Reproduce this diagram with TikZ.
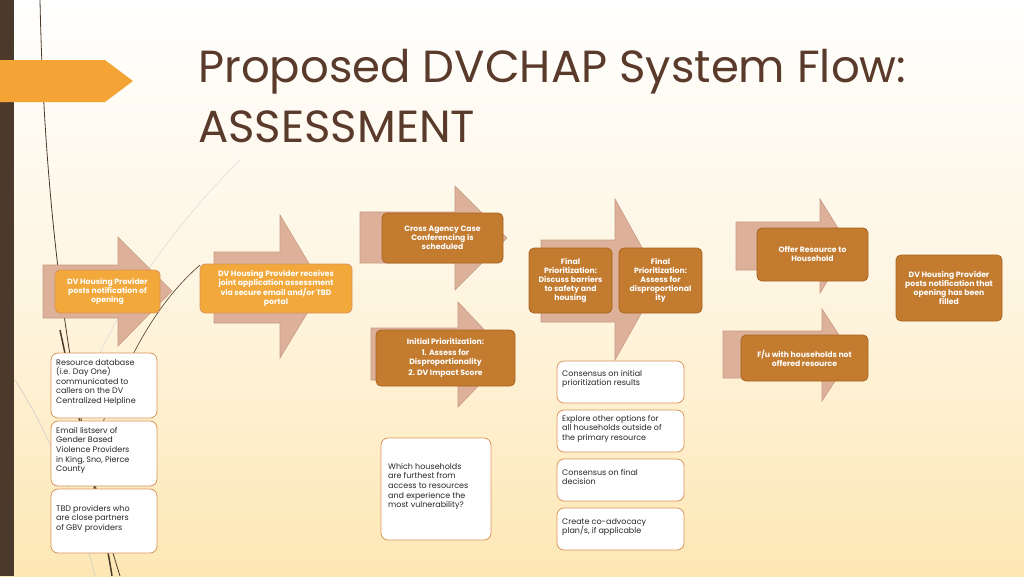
\documentclass[tikz,border=0pt]{standalone}
\usepackage{fontspec}
\setmainfont{Poppins}
\newfontfamily\titlefont{Poppins}
\usetikzlibrary{shapes.geometric}
\definecolor{peach}{HTML}{DDB09A}
\definecolor{peachedge}{HTML}{C99A84}
\definecolor{lor}{HTML}{F2A83A}
\definecolor{dor}{HTML}{C37B30}
\definecolor{dedge}{HTML}{A9641F}
\definecolor{wedge}{HTML}{D9955A}
\definecolor{brownbar}{HTML}{4B3A2C}
\definecolor{titlec}{HTML}{5A3A2B}
\definecolor{bgbot}{HTML}{FDE7B4}
\tikzset{
  blk/.style={fill=peach,draw=peachedge,line width=0.6pt},
  lbox/.style={draw=wedge,fill=lor,rounded corners=5pt,line width=0.8pt},
  dbox/.style={draw=dedge,fill=dor,rounded corners=5pt,line width=0.8pt},
  wbox/.style={draw=wedge,fill=white,rounded corners=7pt,line width=0.8pt},
  btxt/.style={text=white,font=\fontsize{7.7}{8.9}\selectfont\bfseries,align=center,inner sep=0pt},
  wtxt/.style={text=black!85,font=\fontsize{8}{9.6}\selectfont,align=left,anchor=north west,inner sep=0pt},
}
\begin{document}
\begin{tikzpicture}[x=1pt,y=-1pt]
\useasboundingbox (0,0) rectangle (1024,576);
\shade[top color=white,bottom color=bgbot,middle color=bgbot!40] (0,0) rectangle (1024,576);
\fill[brownbar] (0,0) rectangle (14,576);
% decorative lines
\draw[brownbar,line width=0.8pt] (40,0) .. controls (45,250) and (80,450) .. (120,576);
\draw[brownbar,line width=1.5pt] (60,330) .. controls (90,470) and (105,530) .. (112,576);
\draw[black!20,line width=0.6pt] (15,380) .. controls (60,450) and (80,520) .. (95,576);
\draw[black!15,line width=0.5pt] (240,160) .. controls (160,240) and (110,320) .. (80,400);
\draw[brownbar,line width=0.6pt] (200,265) .. controls (160,300) and (130,350) .. (100,430);
\fill[lor!90!orange] (0,60) -- (105,60) -- (133,81) -- (105,102) -- (0,102) -- cycle;
\node[anchor=west,text=titlec,font=\titlefont\fontsize{45}{50}\selectfont,inner sep=0pt] (t1) at (198,72) {Proposed DVCHAP System Flow:};
\node[anchor=west,text=titlec,font=\titlefont\fontsize{45}{50}\selectfont,inner sep=0pt] (t2) at (198,127) {ASSESSMENT};
% block arrows
\draw[blk] (43,265) -- (118,265) -- (118,237) -- (172,291) -- (118,346) -- (118,318) -- (43,318) -- cycle;
\draw[blk] (214,252) -- (280,252) -- (280,215) -- (323,287) -- (280,358) -- (280,323) -- (214,323) -- cycle;
\draw[blk] (360,212) -- (455,212) -- (455,186) -- (507,238) -- (455,290) -- (455,263) -- (360,263) -- cycle;
\draw[blk] (371,328) -- (458,328) -- (458,302) -- (508,355) -- (458,407) -- (458,380) -- (371,380) -- cycle;
\draw[blk] (541,240) -- (615,240) -- (615,199) -- (660,280) -- (615,360) -- (615,322) -- (541,322) -- cycle;
\draw[blk] (736,222) -- (820,222) -- (820,199) -- (849,246) -- (820,293) -- (820,270) -- (736,270) -- cycle;
\draw[blk] (723,331) -- (822,331) -- (822,309) -- (852,355) -- (822,401) -- (822,378) -- (723,378) -- cycle;
% orange boxes
\draw[lbox] (55,270) rectangle (160,313);
\node[btxt] (b1) at (107.5,291.5) {DV Housing Provider\\posts notification of\\opening};
\draw[lbox] (200,264) rectangle (352,313);
\node[btxt] (b2) at (276,288.5) {DV Housing Provider receives\\joint application assessment\\via secure email and/or TBD\\portal};
\draw[dbox] (382,213) rectangle (503,263);
\node[btxt] (b3) at (442.5,238) {Cross Agency Case\\Conferencing is\\scheduled};
\draw[dbox] (376,330) rectangle (515,386);
\node[btxt] (b4) at (445.5,358) {Initial Prioritization:\\[2pt]1. Assess for\\Disproportionality\\[2pt]2. DV Impact Score};
\draw[dbox] (529,248) rectangle (612,313);
\node[btxt] (b6) at (570.5,280.5) {Final\\Prioritization:\\Discuss barriers\\to safety and\\housing};
\draw[dbox] (619,248) rectangle (702,313);
\node[btxt] (b7) at (660.5,280.5) {Final\\Prioritization:\\Assess for\\disproportional\\ity};
\draw[dbox] (757,228) rectangle (868,281);
\node[btxt] (b8) at (812.5,254) {Offer Resource to\\Household};
\draw[dbox] (741,335) rectangle (868,381);
\node[btxt] (b9) at (804.5,358) {F/u with households not\\offered resource};
\draw[dbox] (896,255) rectangle (1002,321);
\node[btxt] (b10) at (949,288) {DV Housing Provider\\posts notification that\\opening has been\\filled};
% white boxes
\draw[wbox] (51,353) rectangle (157,418);
\node[wtxt] (w1) at (56,359) {Resource database\\(i.e. Day One)\\communicated to\\callers on the DV\\Centralized Helpline};
\draw[wbox] (51,421) rectangle (157,486);
\node[wtxt] (w2) at (56,427) {Email listserv of\\Gender Based\\Violence Providers\\in King, Sno, Pierce\\County};
\draw[wbox] (51,489) rectangle (157,553);
\node[wtxt] (w3) at (56,505) {TBD providers who\\are close partners\\of GBV providers};
\draw[wbox] (381,438) rectangle (491,540);
\node[wtxt] (w4) at (388,463) {Which households\\are furthest from\\access to resources\\and experience the\\most vulnerability?};
\draw[wbox] (557,361) rectangle (684,403);
\node[wtxt] (w5) at (562,370) {Consensus on initial\\prioritization results};
\draw[wbox] (557,410) rectangle (684,452);
\node[wtxt] (w6) at (562,415) {Explore other options for\\all households outside of\\the primary resource};
\draw[wbox] (557,459) rectangle (684,501);
\node[wtxt] (w7) at (562,469) {Consensus on final\\decision};
\draw[wbox] (557,508) rectangle (684,550);
\node[wtxt] (w8) at (562,518) {Create co-advocacy\\plan/s, if applicable};
\end{tikzpicture}
\end{document}
